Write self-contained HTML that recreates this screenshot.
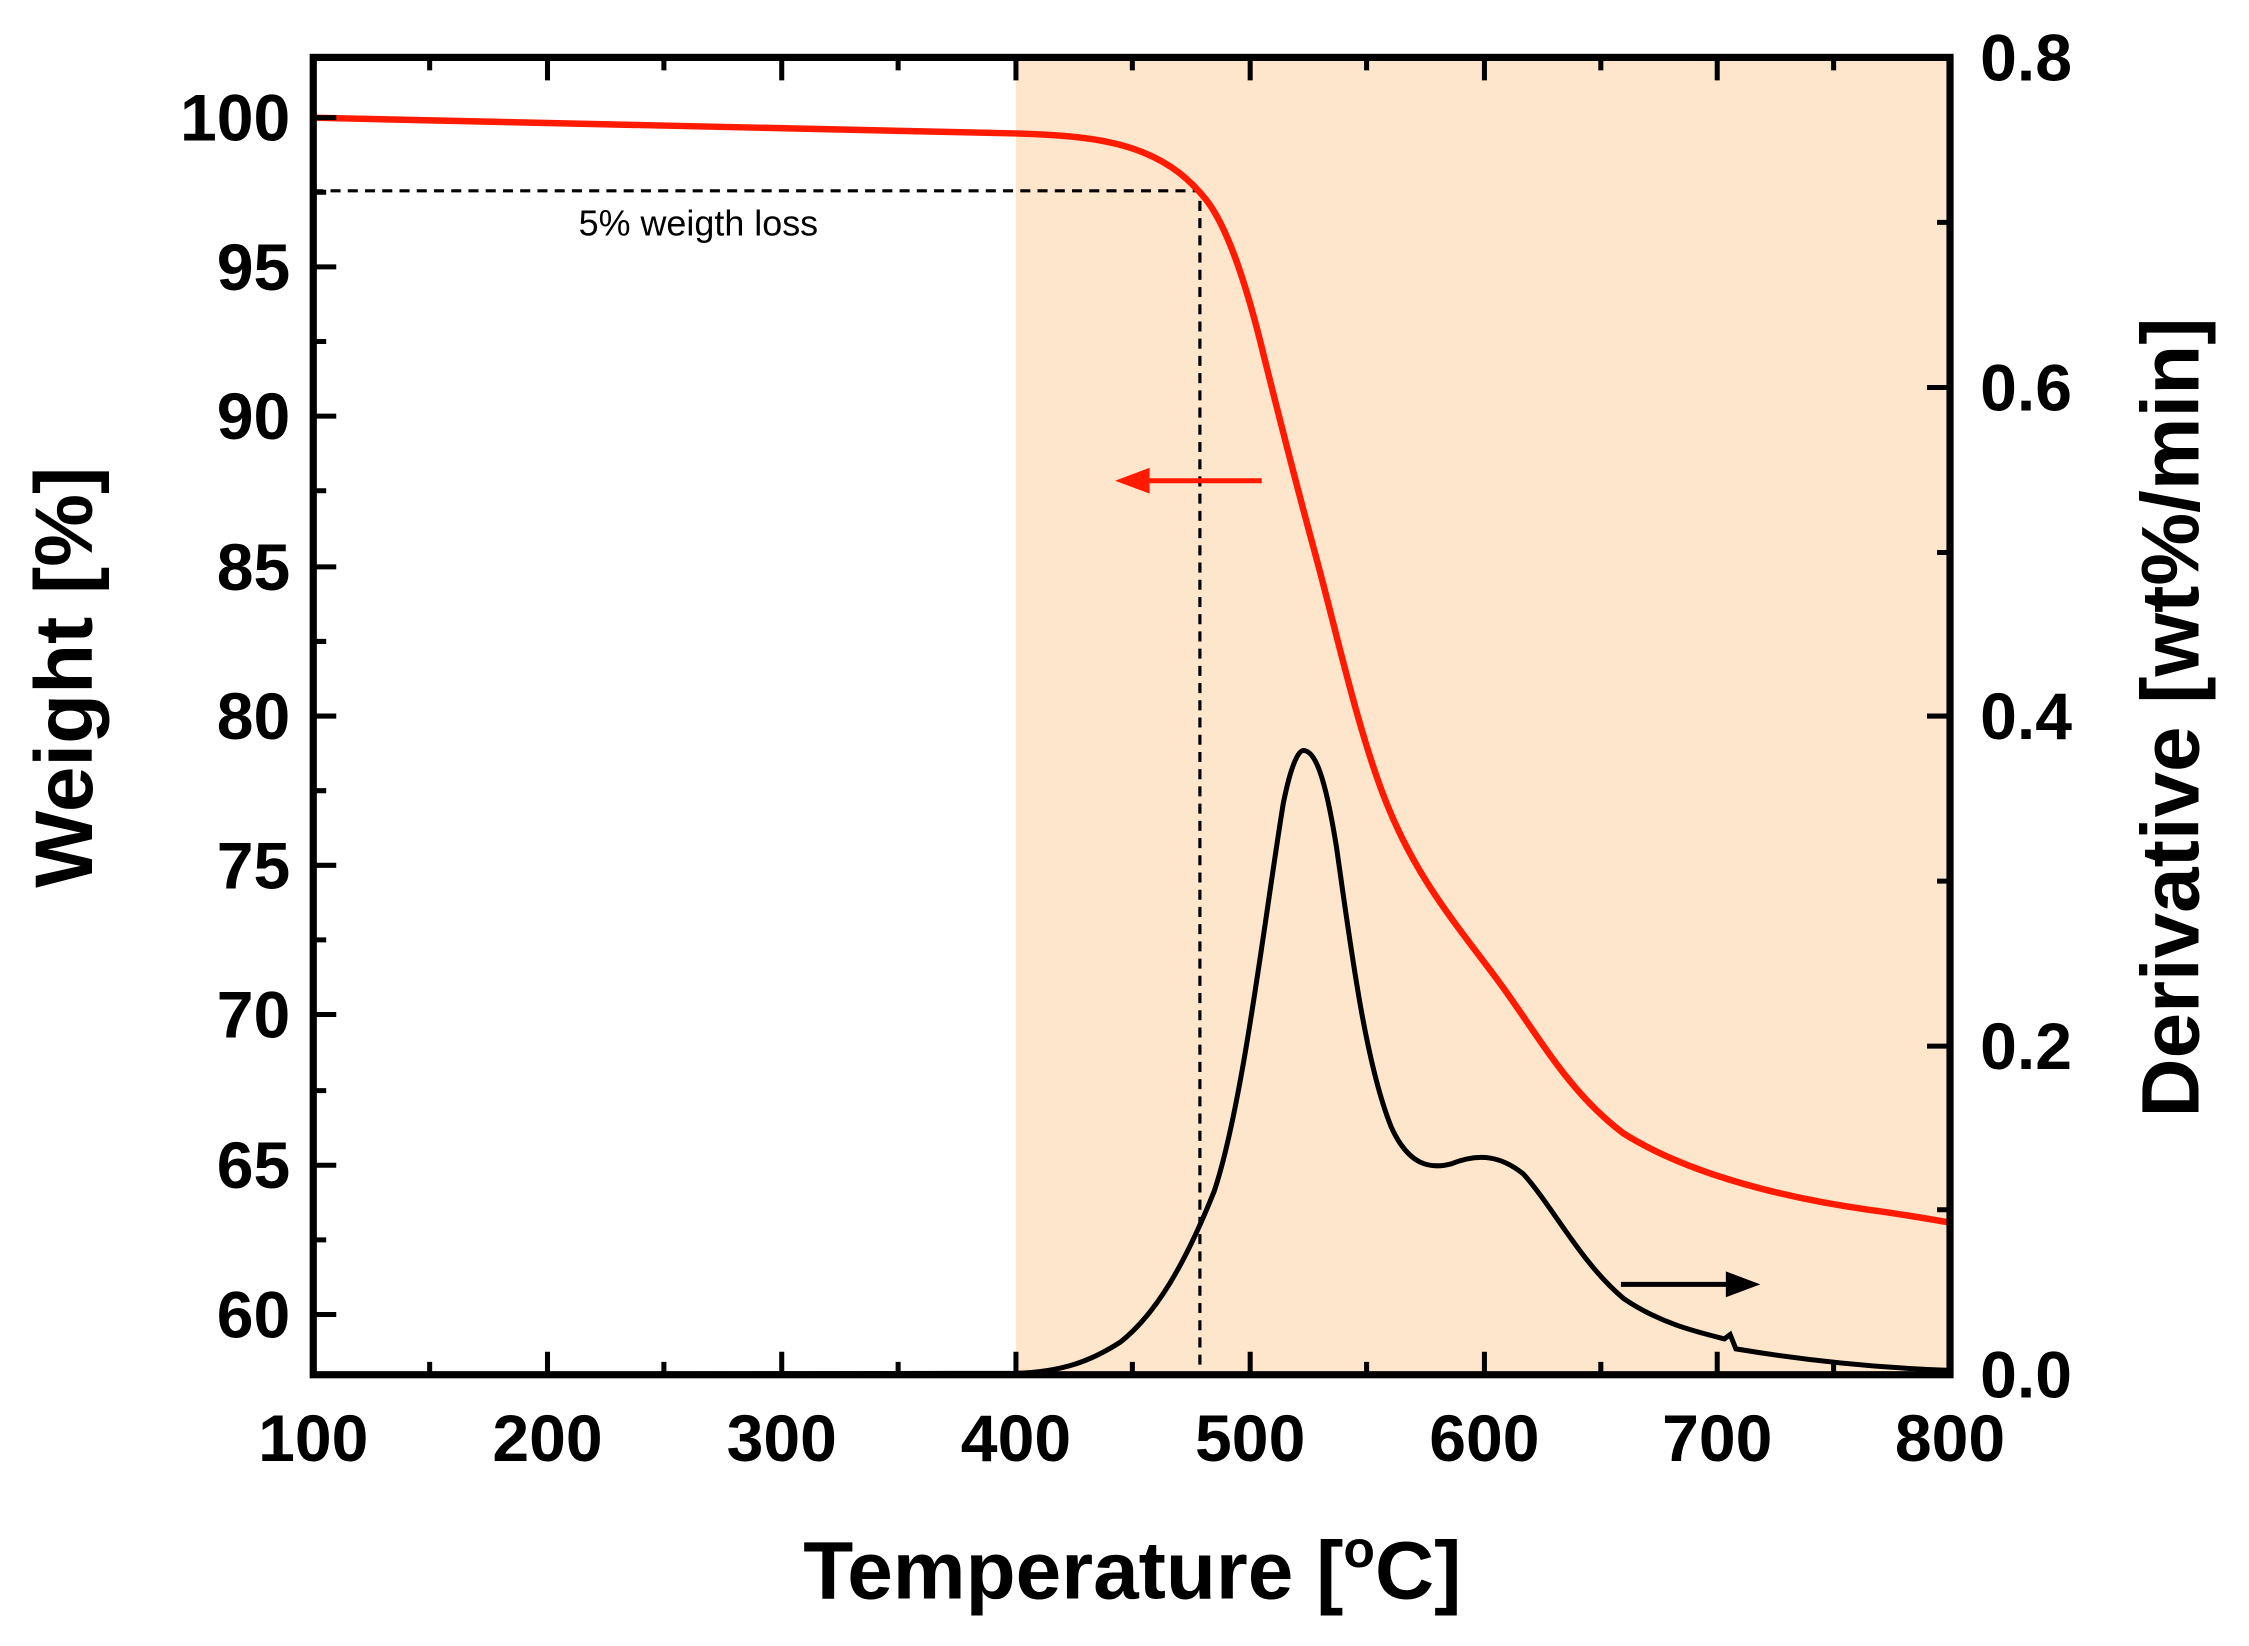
<!DOCTYPE html>
<html><head><meta charset="utf-8"><style>html,body{margin:0;padding:0;background:#fff}</style></head>
<body>
<svg width="2249" height="1641" viewBox="0 0 2249 1641" xmlns="http://www.w3.org/2000/svg" font-family="Liberation Sans, Arial, sans-serif">
<g transform="scale(1.437,1.435)">
<rect x="707" y="40" width="650" height="918" fill="#fde6cc"/>
<path d="M218,133 H835 V958" fill="none" stroke="#000" stroke-width="2.2" stroke-dasharray="7,5"/>
<text x="486" y="164" font-size="25" text-anchor="middle">5% weigth loss</text>
<path d="M218,82 C400,86 600,92 707,93 C740,94 770,96 795,106 C815,114 828,125 840,140 C855,160 868,200 880,250 C890,290 900,330 915,385 C930,440 945,510 965,560 C985,610 1010,640 1040,680 C1070,720 1090,760 1130,790 C1170,815 1230,833 1300,843 C1330,847 1345,850 1357,852" fill="none" stroke="#ff1a00" stroke-width="4.5"/>
<path d="M218,958 L707,957 C740,956 760,948 780,935 C805,915 825,880 845,830 C865,770 880,640 893,560 C898,535 903,523 907,523 C915,523 922,540 930,590 C940,660 950,740 968,785 C980,812 995,815 1010,811 C1030,803 1045,806 1060,818 C1080,840 1100,880 1130,905 C1155,922 1180,928 1200,933 L1204,930 L1208,940 C1250,947 1300,953 1357,955" fill="none" stroke="#000" stroke-width="3.5"/>
<line x1="790" y1="335" x2="878" y2="335" stroke="#ff1a00" stroke-width="3.5"/>
<polygon points="776,335 800,326 800,344" fill="#ff1a00"/>
<line x1="1128" y1="895" x2="1210" y2="895" stroke="#000" stroke-width="3.5"/>
<polygon points="1225,895 1201,886 1201,904" fill="#000"/>
<rect x="218" y="40" width="1139" height="918" fill="none" stroke="#000" stroke-width="5"/>
<g stroke="#000" stroke-width="3.5">
<path d="M381,958v-16M544,958v-16M707,958v-16M870,958v-16M1033,958v-16M1195,958v-16
M299,958v-9M462,958v-9M625,958v-9M788,958v-9M951,958v-9M1114,958v-9M1276,958v-9
M381,40v16M544,40v16M707,40v16M870,40v16M1033,40v16M1195,40v16
M299,40v9M462,40v9M625,40v9M788,40v9M951,40v9M1114,40v9M1276,40v9"/>
<path d="M218,82h16M218,186h16M218,290h16M218,395h16M218,499h16M218,603h16M218,707h16M218,812h16M218,916h16
M218,134h9M218,238h9M218,342h9M218,447h9M218,551h9M218,655h9M218,760h9M218,864h9"/>
<path d="M1357,729h-16M1357,499h-16M1357,270h-16
M1357,843h-9M1357,614h-9M1357,385h-9M1357,155h-9"/>
</g>
<g font-size="46" font-weight="bold" fill="#000">
<g text-anchor="end">
<text x="202" y="98">100</text><text x="202" y="202">95</text><text x="202" y="306">90</text>
<text x="202" y="411">85</text><text x="202" y="515">80</text><text x="202" y="619">75</text>
<text x="202" y="723">70</text><text x="202" y="828">65</text><text x="202" y="932">60</text>
</g>
<g text-anchor="middle">
<text x="218" y="1018">100</text><text x="381" y="1018">200</text><text x="544" y="1018">300</text>
<text x="707" y="1018">400</text><text x="870" y="1018">500</text><text x="1033" y="1018">600</text>
<text x="1195" y="1018">700</text><text x="1357" y="1018">800</text>
</g>
<g text-anchor="start">
<text x="1378" y="56">0.8</text><text x="1378" y="286">0.6</text><text x="1378" y="515">0.4</text>
<text x="1378" y="745">0.2</text><text x="1378" y="974">0.0</text>
</g>
</g>
<g font-size="57" font-weight="bold" fill="#000" text-anchor="middle">
<text x="788" y="1114">Temperature [<tspan font-size="36" dy="-22">o</tspan><tspan dy="22">C]</tspan></text>
<text transform="translate(64,472) rotate(-90)">Weight [%]</text>
<text transform="translate(1530,500) rotate(-90)">Derivative [wt%/min]</text>
</g>
</g>
</svg>
</body></html>
